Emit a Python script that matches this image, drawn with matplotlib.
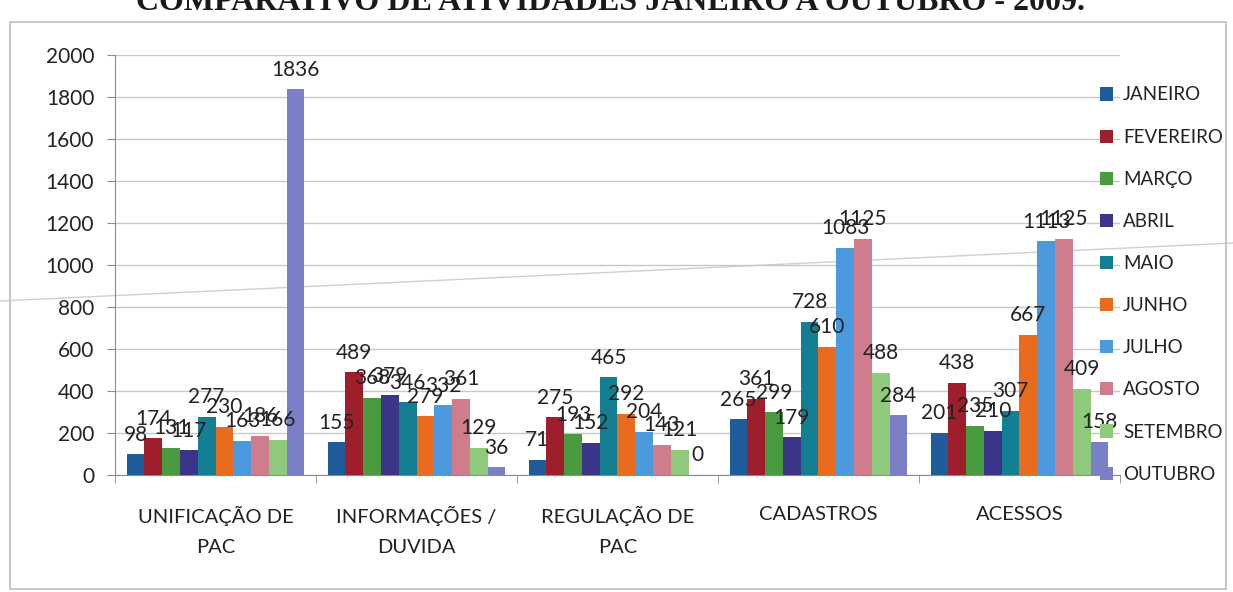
import numpy as np
import matplotlib.pyplot as plt
from matplotlib.lines import Line2D
from matplotlib.patches import Rectangle

plt.rcParams['font.family'] = ['Lato', 'DejaVu Sans']

# Atividades por mês (janeiro a outubro)
categorias = ['UNIFICAÇÃO DE\nPAC', 'INFORMAÇÕES /\nDUVIDA', 'REGULAÇÃO DE\nPAC', 'CADASTROS', 'ACESSOS']
meses = ['JANEIRO', 'FEVEREIRO', 'MARÇO', 'ABRIL', 'MAIO',
         'JUNHO', 'JULHO', 'AGOSTO', 'SETEMBRO', 'OUTUBRO']

janeiro = [98, 155, 71, 265, 201]
fevereiro = [174, 489, 275, 361, 438]
marco = [131, 368, 193, 299, 235]
abril = [117, 379, 152, 179, 210]
maio = [277, 346, 465, 728, 307]
junho = [230, 279, 292, 610, 667]
julho = [163, 332, 204, 1083, 1113]
agosto = [186, 361, 143, 1125, 1125]
setembro = [166, 129, 121, 488, 409]
outubro = [1836, 36, 0, 284, 158]

valores = [janeiro, fevereiro, marco, abril, maio, junho, julho, agosto, setembro, outubro]
cores = ['#1f5c9c', '#9e1f2b', '#4a9a3f', '#3a3589', '#127f92',
         '#e86b1e', '#4c9ade', '#cf7d8d', '#8fc97b', '#7b7fc7']

fig = plt.figure(figsize=(12.33, 5.92), dpi=100)
ax = fig.add_axes([0.0933, 0.1976, 0.815, 0.7095])
ax.patch.set_alpha(0)

# linha de fundo (risco do papel digitalizado)
fig.add_artist(Line2D([0, 1], [1 - 301 / 592, 1 - 243 / 592], color='#cfcfcf', lw=1.0, zorder=-1))
# moldura do gráfico
fig.add_artist(Rectangle((10 / 1233, 1 - 589 / 592), 1216 / 1233, 567 / 592,
                         fill=False, edgecolor='#bdbdbd', lw=1.2, zorder=-1))
fig.text(0.495, 1 - 3 / 592, 'COMPARATIVO DE ATIVIDADES JANEIRO A OUTUBRO - 2009.',
         ha='center', va='center', fontsize=23, fontweight='bold',
         family=['Liberation Serif', 'DejaVu Serif'], color='#1a1a1a')

x = np.arange(len(categorias))
n = len(meses)
larg = 0.885 / n
for i, (mes, vals, cor) in enumerate(zip(meses, valores, cores)):
    pos = x - 0.885 / 2 + larg * (i + 0.5)
    barras = ax.bar(pos, vals, width=larg, color=cor, label=mes, zorder=3)
    for b, v in zip(barras, vals):
        ax.annotate(str(v), (b.get_x() + b.get_width() / 2, v), xytext=(0, 7),
                    textcoords='offset points', ha='center', va='bottom',
                    fontsize=15, color='#222222', zorder=5)

ax.set_xlim(-0.5, len(categorias) - 0.5)
ax.set_ylim(0, 2000)
ax.set_yticks(np.arange(0, 2001, 200))
ax.yaxis.grid(True, color='#c8c8c8', lw=1.0, zorder=0)
ax.set_xticks(x)
ax.set_xticklabels(categorias, fontsize=14.5, color='#222222', linespacing=1.95)
ax.set_xticks(np.arange(-0.5, len(categorias)), minor=True)
ax.tick_params(axis='x', which='major', length=0, pad=22)
ax.tick_params(axis='x', which='minor', length=6, color='#8c8c8c')
ax.tick_params(axis='y', length=6, color='#8c8c8c', labelsize=15, labelcolor='#222222', pad=9)
for s in ['top', 'right']:
    ax.spines[s].set_visible(False)
ax.spines['left'].set_color('#8c8c8c')
ax.spines['bottom'].set_color('#8c8c8c')

ax.legend(loc='upper left', bbox_to_anchor=(1092 / 1233, 1 - 79 / 592), bbox_transform=fig.transFigure,
          frameon=False, fontsize=13.5, handlelength=0.7, handleheight=0.7, handletextpad=0.55,
          labelspacing=1.34, borderaxespad=0, labelcolor='#222222')

fig.savefig('out.png', dpi=100, facecolor='white')
